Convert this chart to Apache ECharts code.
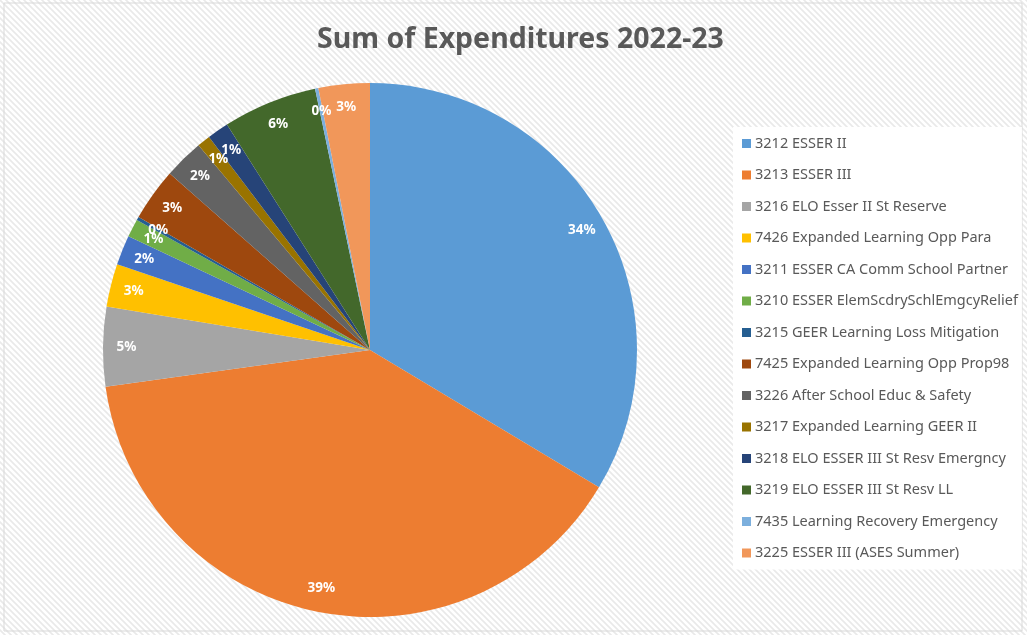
<!DOCTYPE html>
<html>
<head>
<meta charset="utf-8">
<script src="https://cdn.jsdelivr.net/npm/echarts@6/dist/echarts.min.js"></script>
<style>
  html, body { margin: 0; padding: 0; background: #fff; }
  #chart { width: 1027px; height: 635px; }
</style>
</head>
<body>
<div id="chart"></div>
<script>
// funds, in the order Excel draws them (clockwise from 12 o'clock)
var funds = [
  '3212 ESSER II',
  '3213 ESSER III',
  '3216 ELO Esser II St Reserve',
  '7426 Expanded Learning Opp Para',
  '3211 ESSER CA Comm School Partner',
  '3210 ESSER ElemScdrySchlEmgcyRelief',
  '3215 GEER Learning Loss Mitigation',
  '7425 Expanded Learning Opp Prop98',
  '3226 After School Educ & Safety',
  '3217 Expanded Learning GEER II',
  '3218 ELO ESSER III St Resv Emergncy',
  '3219 ELO ESSER III St Resv LL',
  '7435 Learning Recovery Emergency',
  '3225 ESSER III (ASES Summer)'
];
// share of total (percent)
var shares = [33.6, 39.2, 4.8, 2.6, 1.8, 1.1, 0.2, 3.2, 2.4, 0.8, 1.3, 5.7, 0.2, 3.1];

// office palette
var palette = ['#5B9BD5', '#ED7D31', '#A5A5A5', '#FFC000', '#4472C4', '#70AD47', '#255E91',
               '#9E480E', '#636363', '#997300', '#264478', '#43682B', '#7CAFDD', '#F1975A'];

// diagonal hatch used as the chart background
function hatch() {
  var c = document.createElement('canvas');
  c.width = 6; c.height = 6;
  var g = c.getContext('2d');
  g.fillStyle = '#ffffff';
  g.fillRect(0, 0, 6, 6);
  g.strokeStyle = '#e9e9e9';
  g.lineWidth = 1.6;
  g.beginPath();
  g.moveTo(-1, -1); g.lineTo(7, 7);
  g.moveTo(-4, 2); g.lineTo(4, 10);
  g.moveTo(2, -4); g.lineTo(10, 4);
  g.stroke();
  return c;
}

var pieData = funds.map(function (n, i) { return { name: n, value: shares[i] }; });
var font = '"Noto Sans", "Open Sans", sans-serif';

var chart = echarts.init(document.getElementById('chart'), null, { renderer: 'canvas' });
chart.setOption({
  backgroundColor: { image: hatch(), repeat: 'repeat' },
  color: palette,
  animation: false,
  title: {
    text: 'Sum of Expenditures 2022-23',
    left: 312,
    top: 20,
    padding: 5,
    textStyle: { color: '#595959', fontSize: 28.5, fontWeight: 'bold', fontFamily: font }
  },
  graphic: [{
    type: 'rect',
    shape: { x: 4, y: 3, width: 1018, height: 628 },
    style: { fill: 'none', stroke: '#d9d9d9', lineWidth: 1 },
    silent: true
  }],
  legend: {
    orient: 'vertical',
    data: funds,
    left: 733,
    top: 127,
    backgroundColor: '#ffffff',
    padding: [9, 4, 9, 9],
    itemWidth: 9,
    itemHeight: 9,
    itemGap: 16.5,
    icon: 'rect',
    textStyle: { color: '#595959', fontSize: 14.5, fontFamily: font, padding: [0, 0, 0, -1] }
  },
  series: [
    {
      // the pie itself
      type: 'pie',
      center: [370, 350],
      radius: [0, 267],
      startAngle: 90,
      data: pieData,
      label: { show: false },
      labelLine: { show: false },
      itemStyle: { borderWidth: 0 }
    },
    {
      // invisible ring that carries the labels near the rim (Excel "inside end")
      type: 'pie',
      center: [370, 350],
      radius: [214, 267],
      startAngle: 90,
      silent: true,
      legendHoverLink: false,
      avoidLabelOverlap: false,
      minShowLabelAngle: 0,
      labelLayout: { hideOverlap: false },
      data: pieData,
      itemStyle: { color: 'rgba(0,0,0,0)' },
      label: {
        show: true,
        position: 'inside',
        color: '#ffffff',
        fontSize: 13.5,
        fontWeight: 'bold',
        fontFamily: font,
        formatter: function (p) { return Math.round(p.percent) + '%'; }
      },
      labelLine: { show: false }
    }
  ]
});
</script>
</body>
</html>
